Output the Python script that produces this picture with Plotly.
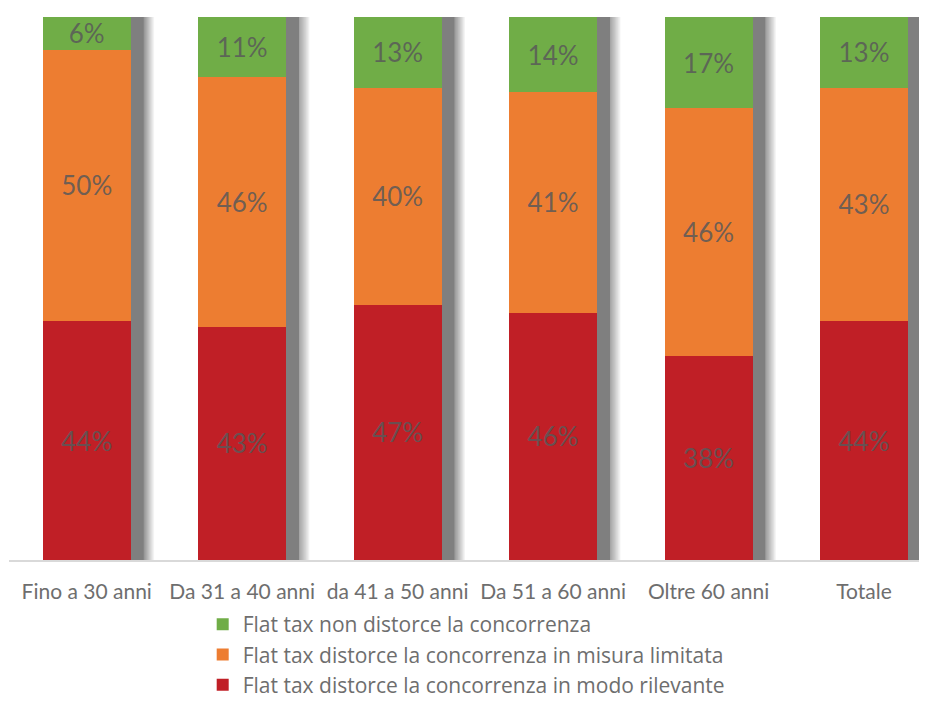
import plotly.graph_objects as go

categories = ["Fino a 30 anni", "Da 31 a 40 anni", "da 41 a 50 anni",
              "Da 51 a 60 anni", "Oltre 60 anni", "Totale"]
rilevante = [44, 43, 47, 46, 38, 44]
limitata = [50, 46, 40, 41, 46, 43]
non_distorce = [6, 11, 13, 14, 17, 13]

series = [
    ("Flat tax distorce la concorrenza in modo rilevante", rilevante, "#C01F26", 3),
    ("Flat tax distorce la concorrenza in misura limitata", limitata, "#ED7D31", 2),
    ("Flat tax non distorce la concorrenza", non_distorce, "#70AD47", 1),
]

FONT = "Lato"
GRAY = "#6E6E6E"
BAR_W = 0.566

fig = go.Figure()
for name, vals, col, rank in series:
    fig.add_trace(go.Bar(
        x=categories, y=vals, name=name, marker=dict(color=col, line=dict(width=0)),
        width=BAR_W, text=[f"{v}%" for v in vals], textposition="inside",
        insidetextanchor="middle", textangle=0, constraintext="none",
        textfont=dict(family=FONT, size=26, color="rgba(89,89,89,0.85)"),
        hoverinfo="skip", legendrank=rank,
    ))

# soft shadow to the right of each bar
shapes = []
for i in range(len(categories)):
    right = i + BAR_W / 2
    shapes.append(dict(type="rect", xref="x", yref="y", layer="below",
                       x0=right - 0.05, x1=right + 0.085, y0=0, y1=100,
                       fillcolor="#7F7F7F", line=dict(width=0)))
    steps = 10
    for k in range(steps):
        shapes.append(dict(type="rect", xref="x", yref="y", layer="below",
                           x0=right + 0.085 + k * 0.0065, x1=right + 0.085 + (k + 1) * 0.0065,
                           y0=0, y1=100, fillcolor="#7F7F7F",
                           opacity=0.9 * (1 - (k + 1) / (steps + 1)), line=dict(width=0)))

fig.update_layout(
    width=919, height=702,
    margin=dict(l=1, r=0, t=9, b=150, autoexpand=False),
    paper_bgcolor="white", plot_bgcolor="white",
    barmode="stack", barnorm="percent",
    shapes=shapes,
    font=dict(family=FONT, color=GRAY),
    xaxis=dict(range=[-0.5, 5.405], showgrid=False, zeroline=False,
               showline=True, linecolor="#D9D9D9", linewidth=2,
               ticks="outside", ticklen=12, tickcolor="rgba(0,0,0,0)",
               tickfont=dict(family=FONT, size=21, color=GRAY)),
    yaxis=dict(range=[0, 100], visible=False, fixedrange=True),
    legend=dict(orientation="v", x=0.211, xanchor="left", y=-0.081, yanchor="top",
                font=dict(family="Open Sans", size=21, color=GRAY),
                traceorder="normal", itemwidth=30),
    showlegend=True,
)

fig.write_html("out.html")
